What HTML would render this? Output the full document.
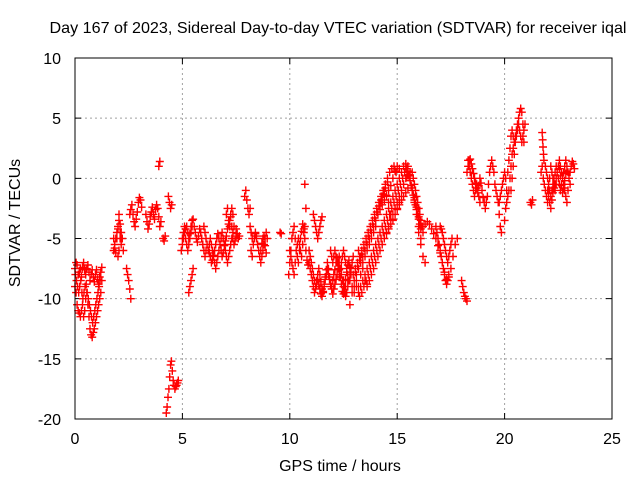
<!DOCTYPE html>
<html><head><meta charset="utf-8">
<style>
body{margin:0;background:#fff;}
svg{display:block;font-family:"Liberation Sans",sans-serif;}
</style></head>
<body>
<svg id="chart" width="640" height="480" viewBox="0 0 640 480" xmlns="http://www.w3.org/2000/svg">
<rect width="640" height="480" fill="#fff"/>
<text x="338" y="33" font-size="16" text-anchor="middle" textLength="577" lengthAdjust="spacingAndGlyphs">Day 167 of 2023, Sidereal Day-to-day VTEC variation (SDTVAR) for receiver iqal</text>
<g id="grid"></g>
<g id="ticks"></g>
<g id="points"></g>
<rect x="75" y="58" width="537" height="361" fill="none" stroke="#000" stroke-width="1"/>
<text x="340" y="471" font-size="16" text-anchor="middle">GPS time / hours</text>
<text x="20" y="223" font-size="16" text-anchor="middle" transform="rotate(-90 20 223)">SDTVAR / TECUs</text>
</svg>
<script>
const xTicks=[0,5,10,15,20,25];
const yTicks=[10,5,0,-5,-10,-15,-20];
// each track: start hour, step hours, values (TECU)
const trackStarts=[0,0,1.8,1.8,2.4,2.55,3.3,3.9,4.1,4.35,4.25,4.95,5.3,6.1,7.5,7.9,8.15,9.55,9.95,11.1,10.9,10.7,12.7,13.0,13.5,13.2,15.4,16.2,16.8,15.6,16.0,18.0,18.25,19.15,19.75,20.1,20.0,21.2,21.75,21.7,22.0,12.3,
 0.02,2.0,5.0,6.0,7.05,8.2,10.0,10.9,11.9,12.75,13.25,13.6,12.95,15.45,15.7,16.8,17.0,20.3,21.9,18.3];
const trackSteps=[.05,.05,.05,.05,.05,.05,.05,.05,.05,.05,.04,.05,.05,.05,.05,.05,.05,.05,.05,.05,.05,.05,.1,.1,.1,.1,.1,.1,.1,.1,.1,.05,.05,.05,.05,.05,.05,.05,.02,.05,.05,.1,
 .05,.05,.05,.05,.05,.05,.05,.05,.05,.1,.1,.1,.1,.05,.05,.05,.05,.05,.05,.05];
const trackValues=[
[-7.5,-7,-7.2,-8,-7.8,-7.5,-8.2,-7.4,-7,-7.6,-8,-7.5,-7.2,-7.8,-8.5,-8,-7.6,-8.2,-8.6,-8,-7.6,-8.4,-8.8,-8.2,-7.8,-7.4],
[-9,-9.5,-10.5,-11,-11.2,-11.5,-11,-10.5,-11.5,-11,-10,-9.5,-10.5,-11.5,-12.5,-13,-13.2,-12.8,-12.5,-12,-11.5,-11,-10.5,-10,-9.5,-8.5],
[-6,-5.5,-5,-4.5,-4,-3.5,-4.5,-5.5],
[-5,-5.8,-6.2,-5,-4.2,-3,-3.8,-5],
[-7.5,-8,-8.5,-9.2,-10],
[-3,-2.6,-2.2,-3,-3.6,-4,-3.4,-2.8,-2,-1.6,-1.8,-2.4],
[-3,-3.6,-4.2,-3.8,-3.2,-2.8,-2.4,-3,-3.4,-2.6,-2.2,-2.5,-3.2,-4,-3.6],
[1,1.4],
[-5,-5.2,-4.8],
[-1.5,-2,-2.5,-2.2],
[-19.5,-19,-18.2,-17.5,-16.5,-15.5,-15.2,-16,-16.8,-17.2,-17.5,-17.3,-17.2,-17,-16.8],
[-6,-5.5,-5,-4.5,-4.2,-4,-4.5,-5,-4.6,-4,-3.5,-3.4,-4,-4.5,-5,-5.3,-4.8,-4.2,-4.5,-5,-5.5,-6,-6.5,-6,-5.5],
[-9.5,-9,-8.5,-8,-7.5],
[-5,-5.5,-6,-6.2,-6.5,-7,-6.8,-6.4,-6,-5.5,-5,-4.6,-5,-5.5,-6,-6.5,-6.2,-5.6,-5.2,-4.8,-4.2,-3.8,-3.5,-3.2,-4,-5,-5.5,-5.2,-4.8],
[-4.2,-4.6,-5,-4.8],
[-1.5,-1,-1.8,-2.5,-3,-2.5],
[-4,-4.5,-5,-5.5,-5,-4.6,-4.8,-5.5,-6,-6.5,-6,-5.4,-5,-4.8,-5.6,-6.2],
[-4.5,-4.6],
[-8,-7,-6,-5,-4.5,-4,-5,-6,-6.5,-7,-6,-5,-4.4,-3.8,-4.2,-5,-6,-6.8,-7.2],
[-3,-3.5,-4,-4.5,-5,-4.5,-4,-3.5,-3.2],
[-6,-6.5,-7,-7.5,-8,-8.5,-9,-8.5,-8,-7.5,-8,-8.6,-9.2,-9.5,-9,-8.2,-7.6,-7,-7.5,-8.2,-8.8,-9,-8.5,-8,-7.6,-7,-6.6,-7,-7.6,-8.2,-8.8,-9.4,-9.6,-9,-8.4,-7.8,-7.2,-6.8,-7.4,-8],
[-0.5,-2.5],
[-8,-8.5,-9,-8.5,-8,-7.5,-7,-6.5,-6,-5.5,-5,-4.5,-4,-3.5,-3,-2.6,-2.2,-1.8,-1.4,-1,-0.6,0,0.6,1,0.8],
[-9.5,-9,-9.5,-9,-8.5,-8,-7.5,-7,-6.5,-6,-5.5,-5,-4.5,-4,-3.5,-3,-2.5,-2,-1.5,-1,-0.5,0,0.5,1,1.2,1,0.5],
[-8.5,-8.8,-8.5,-8,-7.5,-7,-6.5,-6,-5.5,-5,-4.6,-4.2,-3.8,-3.4,-3,-2.6,-2.2,-1.8,-1.5,-1.2,-0.8],
[-6,-6.5,-7,-6.5,-6,-5.5,-5,-4.5,-4,-3,-2,-1.5,-1,-1.5,-2,-3,-3.5,-3,-2.5,-2,-1.5],
[1,0.6,0,-0.8,-1.6,-2.4,-3.2,-3.8],
[-4,-3.8,-3.6,-3.8,-4.2,-4.6],
[-5,-5.6,-6.2,-7,-7.8,-8.4,-8.2,-7.5,-6.5,-5.5,-5],
[0,-1,-2,-3,-4,-5],
[-4.5,-5.5,-6.5,-7],
[-8.5,-9,-9.5,-9.8,-10,-10.2],
[0.5,1,1.5,1.6,1.2,0.8,0.4,0,-0.4,-0.8,-1.2,-0.6,0,-0.4,-1,-1.6,-2,-2.5],
[-2,-1.5,-0.5,0.5,1,1.5,1,0.5,-0.5,-1,-1.5,-2,-3,-4,-4.5],
[-2,-1.5,-1,-0.5,0,0.5,0,-1,-1.5],
[-2,-1.5,-1,0,1,2,2.5,3,3.5,4,4.5,5,5.5,5.8,5.5,4.5,3],
[-3.5,-2.5,-1,0.5,1.5,2.5,3.5,4,3.5],
[-2,-2.2,-1.8],
[3.8,3.2,2.6,2,1.5],
[0.5,1,0,-0.5,-1,-1.5,-2,-1,0,1,0.5,0,-0.5,-1,-0.5,0.5,1,1.5,1,0.5,0,-0.5,-1,-1.5,-2,-1,0,0.5,1,1.4,1.2,0.8],
[-1,-1.5,-2,-2.5,-1.8,-1.2,-0.8,-0.5,0,0.5,1,0.8,0.2,-0.6,-1.2,-0.8,-0.2,0.4,0.6],
[-6.5,-7.5,-8.5,-9,-8.5,-10.5,-9.5,-9,-8.5,-9,-8,-7.5],
[-8,-8.5,-9,-9.5,-9,-8.5,-9.5,-10,-9.5,-9,-8.8,-9.5,-10,-10.5,-11,-11.5,-12,-11.5,-11,-10.5,-10,-9.5,-9,-8.5],
[-6.5,-6,-5,-4.5,-5,-6],
[-5,-4.5,-4,-5,-5.5,-6,-5.5,-5,-4.5,-4],
[-4,-4.5,-5,-5.5,-6,-5.5,-5,-5.5,-6,-6.5,-7,-7.5,-7,-6.5,-6,-5.5,-5,-4.5,-5,-5.5,-6,-6.5,-7,-6.5,-6,-5.5,-5,-4.5,-4],
[-3,-2.5,-3.5,-4,-3,-2.5,-3],
[-6,-6.5,-5.5,-5,-4.5,-5,-5.5,-6,-6.5,-7,-6.5,-6,-5.5,-5,-4.5,-5],
[-6,-6.5,-7,-7.5,-8,-7,-6,-5.5,-5,-5.5,-6,-6.5,-5.5,-4.5,-4],
[-7,-7.5,-8,-8.5,-9,-9.5,-9.2,-8.8,-8.4,-8.8,-9.2,-9.6,-9.8,-9.4,-8.8,-8.4,-8,-7.6,-8,-8.4,-8.8,-9.2,-9.6,-9.2,-8.8,-8.4,-8,-7.5,-7,-7.5,-8,-8.5,-9,-9.5,-9.8,-9.5,-9,-8.5,-8,-7.5],
[-6,-6.5,-7,-6.5,-6,-6.5,-7,-7.5,-8,-7.5,-7,-6.5,-6,-6.5,-7,-7.5,-8,-8.5,-8,-7.5,-7,-6.5],
[-7,-7.5,-8,-7.5,-7,-6.5,-6,-5.5,-5,-4.5,-4,-3.5,-3,-2.5,-2,-1.5,-1,-0.5,0,0.5,0.8,1,0.5],
[-9.8,-9.5,-9,-8.5,-8,-7.5,-7,-6.5,-6,-5.5,-5,-4.5,-4,-3.5,-3,-2.5,-2,-1.5,-1,-0.5,0,0.5,0.2],
[-9,-8.5,-8,-7.5,-7,-6.5,-6,-5.5,-5,-4.5,-4,-3.5,-3,-2.5,-2,-1.5,-1,-0.5,0,0.3],
[-8,-7.8,-7.3,-6.8,-6.3,-5.8,-5.3,-4.8,-4.3,-3.8,-3.3,-2.8,-2.3,-1.8,-1.3,-0.8,-0.3],
[0.8,0.5,0.2,-0.2,-0.6,-1,-1.4,-1.8,-2.2,-2.6,-3,-3.4,-3.8,-4.2],
[0.5,0,-0.5,-1,-1.5,-2,-2.5,-3,-3.5,-4,-4.5],
[-4,-4.5,-5,-5.5,-6,-6.5,-7,-7.5,-8,-8.5,-8.8,-8.5,-8],
[-4,-4.2,-4.5,-5,-5.5,-6,-6.5,-7,-6.5,-6,-5.5,-5],
[-1,0,1,2,3,3.5,4,4.5,4,3.5,3,3.5,4,4.5],
[1,0.5,0,-0.5,-1,-1.5,-1,-0.5,0,0.5,1,0.5,0,-0.5,-1,-0.5,0,0.5,1,1.5,1,0.5,0,-0.5],
[1.5,1,0.5,0,-0.5,-1,-1.5,-1,-0.5,-1,-1.5,-2]
];
const X0=75,X1=612,Y0=419,Y1=58;
function xs(h){return X0+(h-0)/(25-0)*(X1-X0);}
function ys(v){return Y0-(v-(-20))/(10-(-20))*(Y0-Y1);}
const NS="http://www.w3.org/2000/svg";
const grid=document.getElementById('grid'),ticks=document.getElementById('ticks'),pts=document.getElementById('points');
function mk(tag,attrs,parent){const e=document.createElementNS(NS,tag);for(const k in attrs)e.setAttribute(k,attrs[k]);parent.appendChild(e);return e;}
xTicks.forEach(t=>{
  const x=xs(t);
  if(t>0&&t<25){const g=mk('line',{x1:x,x2:x,y1:Y1,y2:Y0,stroke:'#a0a0a0','stroke-dasharray':'2,3'},grid);
  
  }
  const tk=mk('path',{d:`M${x},${Y0}v-6M${x},${Y1}v6`,stroke:'#000'},ticks);
  
  
  const l=mk('text',{x:x,y:444,'font-size':16,'text-anchor':'middle'},ticks);l.textContent=t;
  
  
});
yTicks.forEach(t=>{
  const y=ys(t);
  if(t>-20&&t<10){const g=mk('line',{x1:X0,x2:X1,y1:y,y2:y,stroke:'#a0a0a0','stroke-dasharray':'2,3'},grid);
  
  }
  const tk=mk('path',{d:`M${X0},${y}h6M${X1},${y}h-6`,stroke:'#000'},ticks);
  
  
  const l=mk('text',{x:61,y:y+6,'font-size':16,'text-anchor':'end'},ticks);l.textContent=t;
  
  
});
let d='';
trackValues.forEach((vals,i)=>{
  vals.forEach((v,j)=>{
    const x=xs(trackStarts[i]+j*trackSteps[i]),y=ys(v);
    d+=`M${(x-4).toFixed(1)},${y.toFixed(1)}h8M${x.toFixed(1)},${(y-4).toFixed(1)}v8`;
  });
});
const p=mk('path',{d:d,stroke:'#ff0000','stroke-width':1.4,fill:'none'},pts);


</script>
</body></html>
